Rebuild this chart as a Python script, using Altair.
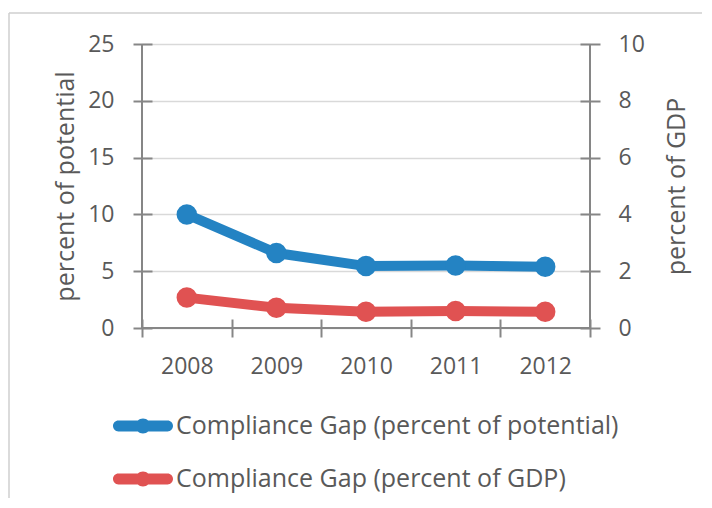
import altair as alt
import pandas as pd

years = ["2008", "2009", "2010", "2011", "2012"]
gap_potential = [10.0, 6.6, 5.45, 5.5, 5.4]      # percent of potential (left axis)
gap_gdp = [1.07, 0.71, 0.57, 0.6, 0.57]          # percent of GDP (right axis)
series_names = ["Compliance Gap (percent of potential)", "Compliance Gap (percent of GDP)"]
left_ticks = [0, 5, 10, 15, 20, 25]
right_ticks = [0, 2, 4, 6, 8, 10]

BLUE = "#2483c3"
RED = "#e05252"
TXT = "#595959"
AX = "#868686"
FONT = "Open Sans"
TICK_FS = 23
TITLE_FS = 25
W, H = 448, 284

df = pd.DataFrame({
    "year": years * 2,
    "series": [series_names[0]] * len(years) + [series_names[1]] * len(years),
    "value": gap_potential + gap_gdp,
})

sym_path = ("M-1.64,-0.36L1.64,-0.36A0.36,0.36,0,0,1,1.64,0.36L-1.64,0.36A0.36,0.36,0,0,1,-1.64,-0.36Z "
            "M-0.5,0A0.5,0.5,0,1,1,0.5,0A0.5,0.5,0,1,1,-0.5,0Z")

x_enc = alt.X(
    "year:O", bandPosition=0.5,
    scale=alt.Scale(type="band", paddingInner=0, paddingOuter=0),
    axis=alt.Axis(title=None, tickBand="extent", labelAngle=0, labelFont=FONT, labelFontSize=TICK_FS,
                  labelColor=TXT, labelPadding=18, tickSize=18, offset=-9, tickColor=AX, tickWidth=2,
                  domain=False, grid=False),
)

color_scale = alt.Scale(domain=series_names, range=[BLUE, RED])
legend = alt.Legend(title=None, orient="none", legendX=-14, legendY=367, direction="vertical",
                    symbolType=sym_path, symbolSize=900, symbolStrokeWidth=0, symbolOpacity=1,
                    labelOffset=18, rowPadding=25, labelFont=FONT, labelFontSize=TITLE_FS,
                    labelColor=TXT, labelLimit=700)

left_axis = alt.Axis(title="percent of potential", values=left_ticks, grid=True, gridColor="#d9d9d9",
                     gridWidth=1.5, domain=False, offset=-10, tickColor=AX, tickWidth=2,
                     tickSize=19, labelPadding=19, labelFont=FONT, labelFontSize=TICK_FS, labelColor=TXT,
                     titleFont=FONT, titleFontSize=TITLE_FS, titleColor=TXT, titleFontWeight="normal",
                     titleAngle=270, titleBaseline="bottom", titleAlign="center",
                     titleX=-74, titleY=H / 2)
right_axis = alt.Axis(title="percent of GDP", orient="right", values=right_ticks, grid=False,
                      domain=False, offset=-10, tickColor=AX, tickWidth=2,
                      tickSize=20, labelPadding=18, labelFont=FONT, labelFontSize=TICK_FS, labelColor=TXT,
                      titleFont=FONT, titleFontSize=TITLE_FS, titleColor=TXT, titleFontWeight="normal",
                      titleAngle=270, titleBaseline="top", titleAlign="center",
                      titleX=84, titleY=H / 2)

base = alt.Chart(df)

left_base = base.transform_filter(alt.datum.series == series_names[0])
y_left = alt.Y("value:Q", scale=alt.Scale(domain=[0, 25]), axis=left_axis)
left_line = left_base.mark_line(strokeWidth=10, color=BLUE).encode(x=x_enc, y=y_left)
left_pts = left_base.mark_point(filled=True, size=420, opacity=1).encode(
    x=x_enc, y=y_left, color=alt.Color("series:N", scale=color_scale, legend=legend))
left_layer = alt.layer(left_line, left_pts)

right_base = base.transform_filter(alt.datum.series == series_names[1])
y_right = alt.Y("value:Q", scale=alt.Scale(domain=[0, 10]), axis=right_axis)
right_line = right_base.mark_line(strokeWidth=10, color=RED).encode(x=x_enc, y=y_right)
right_pts = right_base.mark_point(filled=True, size=420, opacity=1).encode(
    x=x_enc, y=y_right, color=alt.Color("series:N", scale=color_scale, legend=legend))
right_layer = alt.layer(right_line, right_pts)

# decorations: axis lines and chart frame
deco = alt.Chart(pd.DataFrame({"k": [0]}))
ax_left = deco.mark_rule(color=AX, strokeWidth=2).encode(
    x=alt.value(0), y=alt.value(0), y2=alt.value(H))
ax_right = deco.mark_rule(color=AX, strokeWidth=2).encode(
    x=alt.value(W), y=alt.value(0), y2=alt.value(H))
ax_bottom = deco.mark_rule(color=AX, strokeWidth=2).encode(
    x=alt.value(0), x2=alt.value(W), y=alt.value(H))
frame_left = deco.mark_rule(color="#cfcfcf", strokeWidth=1.5).encode(
    x=alt.value(-133), y=alt.value(-31), y2=alt.value(480))
frame_top = deco.mark_rule(color="#cfcfcf", strokeWidth=1.5).encode(
    x=alt.value(-133), x2=alt.value(600), y=alt.value(-31))

chart = alt.layer(
    frame_left, frame_top, left_layer, right_layer, ax_left, ax_right, ax_bottom
).resolve_scale(
    y="independent"
).properties(
    width=W, height=H,
    autosize=alt.AutoSizeParams(type="none"),
    padding={"left": 134, "top": 36, "right": 112, "bottom": 170},
).configure_view(stroke=None)

chart.save("out.html", embed_options={"renderer": "svg", "actions": False})
